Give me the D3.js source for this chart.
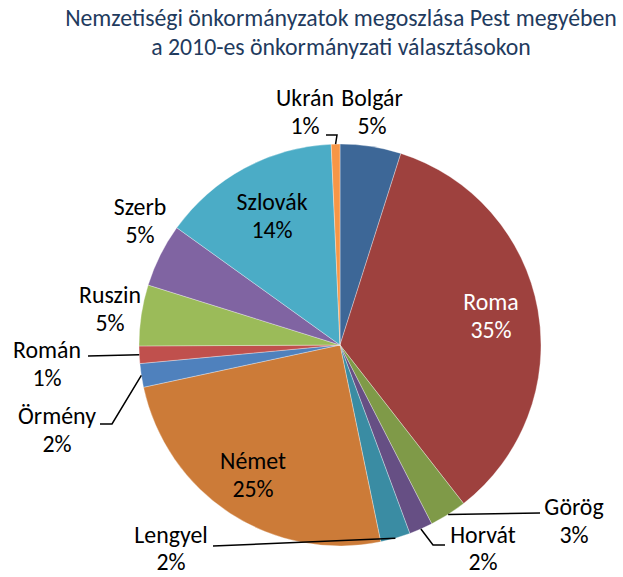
<!DOCTYPE html>
<html>
<head>
<meta charset="utf-8">
<script src="https://cdn.jsdelivr.net/npm/d3@7"></script>
<style>
  html, body { margin: 0; padding: 0; background: #fff; }
  svg { display: block; }
</style>
</head>
<body>
<svg id="chart" width="623" height="577"></svg>
<script>
// Share of minority self-governments by nationality (percent)
const categories = ["Bolgár", "Roma", "Görög", "Horvát", "Lengyel", "Német",
                    "Örmény", "Román", "Ruszin", "Szerb", "Szlovák", "Ukrán"];
const shares = [4.9, 34.6, 3.0, 1.9, 2.4, 24.9, 1.9, 1.4, 4.9, 5.1, 14.4, 0.7];
const sliceColors = ["#3D6797", "#9E413E", "#7F9A48", "#664F84", "#3A8CA3", "#CC7B38",
                     "#4F81BD", "#C0504D", "#9BBB59", "#8064A2", "#4BACC6", "#F79646"];
const titleLines = ["Nemzetiségi önkormányzatok megoszlása Pest megyében",
                    "a 2010-es önkormányzati választásokon"];

const W = 623, H = 577;
const cx = 340, cy = 345, R = 201;
const FONT = "Carlito, Calibri, Lato, sans-serif";

// label placement: centre x, first baseline y and line gap of each two-line label
const labelPos = {
  "Bolgár":  [372, 106, 28], "Ukrán":  [305, 106, 28], "Roma":    [491, 310, 28],
  "Görög":   [574, 515, 28], "Horvát": [483, 543, 27], "Lengyel": [171, 543, 27],
  "Német":   [253, 469, 28], "Örmény": [57, 424, 28],  "Román":   [47, 358, 28],
  "Ruszin":  [110, 303, 28], "Szerb":  [140, 215, 28], "Szlovák": [272, 210, 28]
};
// bend points for leader lines (from slice edge outwards)
const leaderPts = {
  "Ukrán":   [[337, 135], [326, 135]],
  "Görög":   [[540, 513]],
  "Horvát":  [[433, 545], [445, 545]],
  "Lengyel": [[213, 546]],
  "Örmény":  [[112, 424], [100, 424]],
  "Román":   [[88, 356]]
};
const whiteLabels = new Set(["Roma"]);

const svg = d3.select("#chart");

// font size that makes a reference string span a given width
function fitSize(str, width) {
  const t = svg.append("text").attr("font-family", FONT).attr("font-size", 100).text(str);
  const w = t.node().getComputedTextLength();
  t.remove();
  return 100 * width / w;
}
const titleSize = fitSize(titleLines[0], 552);
const labelSize = fitSize("Szlovák", 71);

// title
svg.append("g").selectAll("text").data(titleLines).join("text")
  .attr("x", 341)
  .attr("y", (d, i) => 26 + i * 29)
  .attr("text-anchor", "middle")
  .attr("font-family", FONT)
  .attr("font-size", titleSize)
  .attr("fill", "#1F3B5E")
  .text(d => d);

const data = categories.map((c, i) => ({ name: c, value: shares[i], color: sliceColors[i] }));
const total = d3.sum(shares);

const pie = d3.pie().value(d => d.value).sort(null).startAngle(0).endAngle(2 * Math.PI);
const arcs = pie(data);
const arc = d3.arc().innerRadius(0).outerRadius(R);

const g = svg.append("g").attr("transform", `translate(${cx},${cy})`);
g.selectAll("path").data(arcs).join("path")
  .attr("d", arc)
  .attr("fill", d => d.data.color)
  .attr("stroke", "rgba(255,255,255,0.55)")
  .attr("stroke-width", 0.6);

// leader lines start on the slice's outer edge at its mid angle
const line = d3.line();
arcs.forEach(a => {
  const pts = leaderPts[a.data.name];
  if (!pts) return;
  const mid = (a.startAngle + a.endAngle) / 2;
  const start = [cx + R * Math.sin(mid), cy - R * Math.cos(mid)];
  svg.append("path")
    .attr("d", line([start, ...pts]))
    .attr("fill", "none")
    .attr("stroke", "#000")
    .attr("stroke-width", 1.5);
});

// two-line labels: name and rounded percentage, one text element per line
const pct = d3.format(".0%");
const labelG = svg.append("g")
  .attr("text-anchor", "middle")
  .attr("font-family", FONT)
  .attr("font-size", labelSize);
arcs.forEach(d => {
  const [x, y, gap] = labelPos[d.data.name];
  const fill = whiteLabels.has(d.data.name) ? "#fff" : "#000";
  labelG.append("text").attr("x", x).attr("y", y).attr("fill", fill).text(d.data.name);
  labelG.append("text").attr("x", x).attr("y", y + gap).attr("fill", fill).text(pct(d.data.value / total));
});
</script>
</body>
</html>
